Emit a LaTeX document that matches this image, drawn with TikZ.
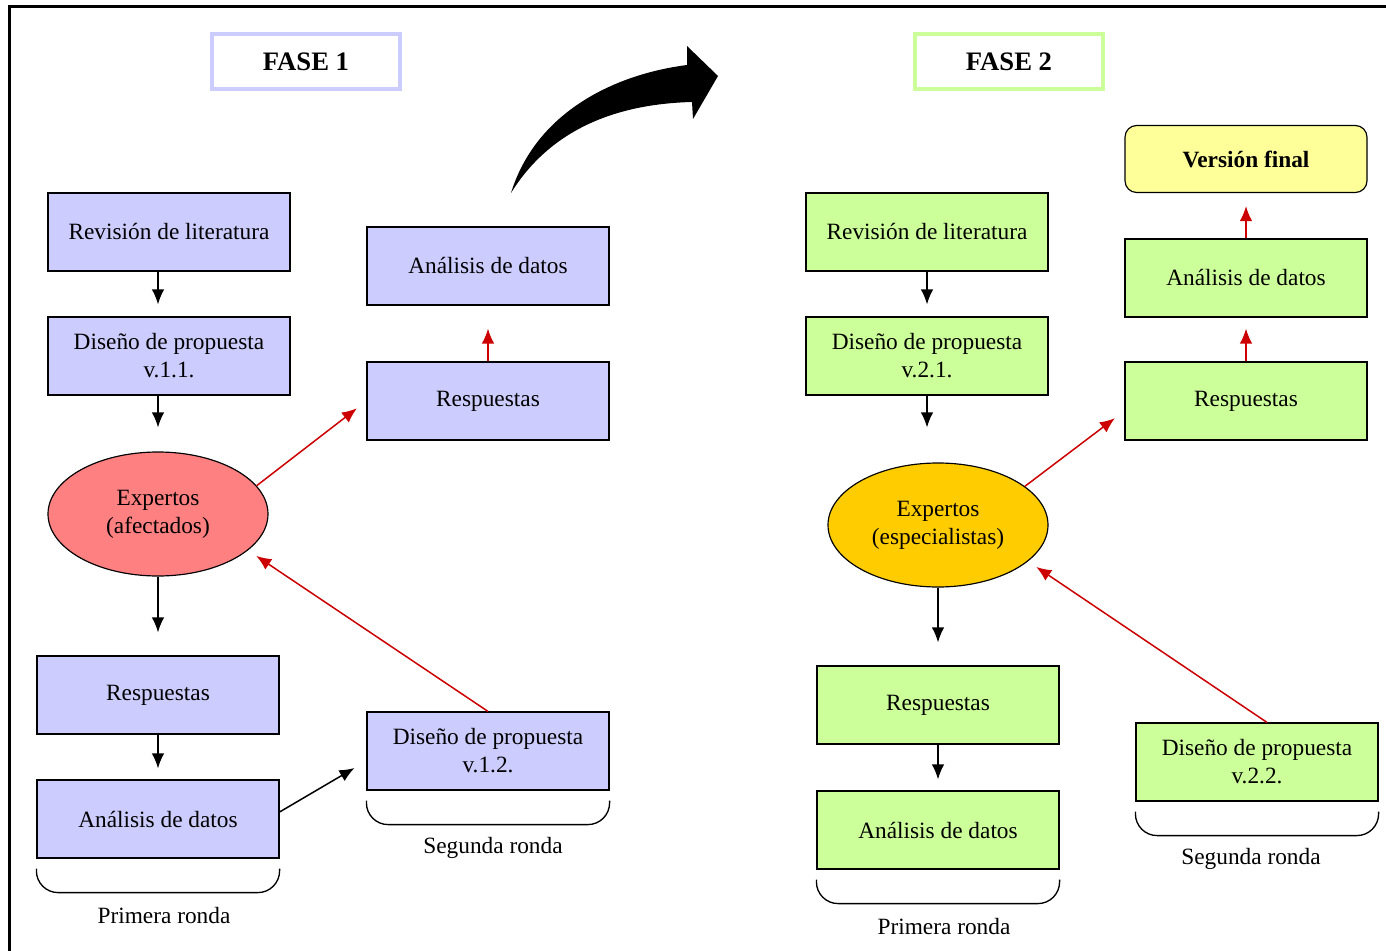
\documentclass[tikz,border=0pt]{standalone}
\usepackage{fontspec}
\setmainfont{Liberation Serif}
\usetikzlibrary{arrows,arrows.meta}
\usetikzlibrary{calc}
\usetikzlibrary{shapes.geometric}
\tikzset{>=latex}
\definecolor{mylila}{RGB}{204,204,255}
\definecolor{mylima}{RGB}{204,255,153}
\definecolor{mysalmon}{RGB}{255,128,128}
\definecolor{myamber}{RGB}{255,204,0}
\definecolor{mycream}{RGB}{255,255,153}
\colorlet{myred}{red!80!black}

\begin{document}
\begin{tikzpicture}[x=0.6pt,y=-0.6pt,
    font=\fontsize{14}{16.8}\selectfont,
    paso/.style={draw,line width=0.7pt,minimum width=145.2pt,minimum height=46.8pt,
                 align=center,inner sep=0pt},
    experto/.style={draw,ellipse,line width=0.7pt,minimum width=132pt,minimum height=74.4pt,
                    align=center,inner sep=0pt},
    fase/.style={draw,line width=2.4pt,minimum width=112.8pt,minimum height=33pt,
                 font=\fontsize{16}{19}\selectfont\bfseries},
    flecha/.style={-{Latex[length=9pt,width=7.5pt]},line width=0.9pt},
    rojo/.style={-{Latex[length=9pt,width=7.5pt]},myred,line width=0.9pt},
    llave/.style={line width=0.8pt,rounded corners=13pt},
  ]
  \useasboundingbox (0,0) rectangle (1386,951);

  % FRAME
  \draw[line width=1.8pt] (9,951) -- (9,7) -- (1386,7);

  % PHASES
  \node[fase,draw=mylila] (fase1) at (306,62) {FASE 1};
  \node[fase,draw=mylima] (fase2) at (1009,62) {FASE 2};

  % FASE 1
  \node[paso,fill=mylila] (rev1) at (169,232) {Revisión de literatura};
  \node[paso,fill=mylila] (dis11) at (169,356) {Diseño de propuesta\\v.1.1.};
  \node[experto,fill=mysalmon] (expA) at (158,514) {Expertos\\(afectados)};
  \node[paso,fill=mylila] (resA1) at (158,695) {Respuestas};
  \node[paso,fill=mylila] (anaA1) at (158,819) {Análisis de datos};
  \node[paso,fill=mylila] (dis12) at (488,751) {Diseño de propuesta\\v.1.2.};
  \node[paso,fill=mylila] (resA2) at (488,401) {Respuestas};
  \node[paso,fill=mylila] (anaA2) at (488,266) {Análisis de datos};

  % FASE 2
  \node[paso,fill=mylima] (rev2) at (927,232) {Revisión de literatura};
  \node[paso,fill=mylima] (dis21) at (927,356) {Diseño de propuesta\\v.2.1.};
  \node[experto,fill=myamber] (expB) at (938,525) {Expertos\\(especialistas)};
  \node[paso,fill=mylima] (resB1) at (938,705) {Respuestas};
  \node[paso,fill=mylima] (anaB1) at (938,830) {Análisis de datos};
  \node[paso,fill=mylima] (dis22) at (1257,762) {Diseño de propuesta\\v.2.2.};
  \node[paso,fill=mylima] (resB2) at (1246,401) {Respuestas};
  \node[paso,fill=mylima] (anaB2) at (1246,278) {Análisis de datos};
  \node[paso,fill=mycream,rounded corners=7pt,minimum height=40.2pt,
        font=\fontsize{14}{16.8}\selectfont\bfseries] (final) at (1246,159) {Versión final};

  % ROUNDS
  \foreach \n/\dx/\lab/\txt in {anaA1/6/ronA1/Primera ronda,dis12/5/ronA2/Segunda ronda,
                                anaB1/6/ronB1/Primera ronda,dis22/-6/ronB2/Segunda ronda}{
    \draw[llave] ($(\n.south west)+(0,10)$) -- ($(\n.south west)+(0,34)$) --
      ($(\n.south east)+(0,34)$) -- ($(\n.south east)+(0,10)$);
    \node (\lab) at ($(\n.south)+(\dx,57)$) {\txt};
  }

  % ARROWS FASE 1
  \draw[flecha,shorten >=7.2pt] (rev1.south -| expA.center) -- (dis11.north -| expA.center);
  \draw[flecha,shorten >=14.4pt] (dis11.south -| expA.center) -- (expA.north);
  \draw[flecha,shorten >=13.8pt] (expA.south) -- (resA1.north);
  \draw[flecha,shorten >=6.6pt] (resA1.south) -- (anaA1.north);
  \draw[flecha,shorten >=8.3pt] ($(anaA1.east)+(0,-7)$) -- ($(dis12.west)+(0,10)$);
  \draw[rojo,shorten >=6pt] (dis12.north) -- (expA.-22);
  \draw[rojo,shorten >=7.2pt] (expA.16) -- (resA2.west);
  \draw[rojo,shorten >=13.8pt] (resA2.north) -- (anaA2.south);

  % ARROWS FASE 2
  \draw[flecha,shorten >=7.2pt] (rev2.south) -- (dis21.north);
  \draw[flecha,shorten >=21pt] (dis21.south) -- (dis21.south |- expB.north);
  \draw[flecha,shorten >=13.8pt] (expB.south) -- (resB1.north);
  \draw[flecha,shorten >=6.6pt] (resB1.south) -- (anaB1.north);
  \draw[rojo,shorten >=6pt] ($(dis22.north)+(10,0)$) -- (expB.-22);
  \draw[rojo,shorten >=7.2pt] (expB.24) -- ($(resB2.west)+(0,10)$);
  \draw[rojo,shorten >=6.6pt] (resB2.north) -- (anaB2.south);
  \draw[rojo,shorten >=7.8pt] (anaB2.north) -- (final.south);

  % BIG ARROW
  \fill (511,193) .. controls (535,115) and (610,75) .. (687,65) -- (687,46) -- (718,76)
    -- (693,119) -- (692,102) .. controls (615,104) and (550,130) .. (511,193) -- cycle;

\end{tikzpicture}
\end{document}
